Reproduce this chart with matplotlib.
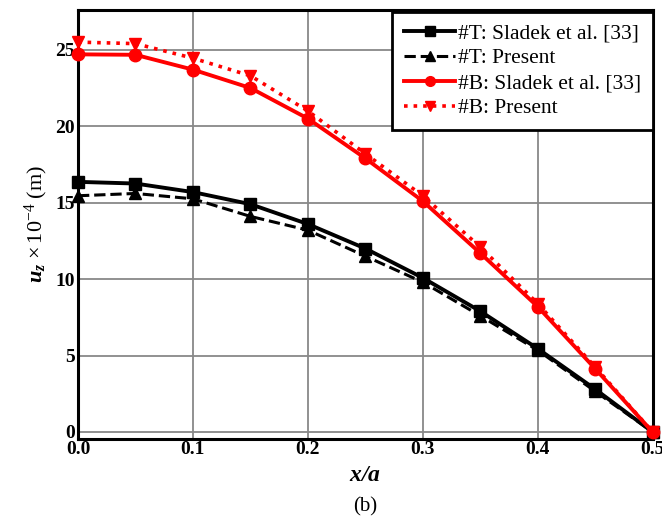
import matplotlib
matplotlib.use("Agg")
import matplotlib.pyplot as plt

plt.rcParams['font.family'] = ['Liberation Serif', 'DejaVu Serif']
plt.rcParams['mathtext.fontset'] = 'custom'
plt.rcParams['mathtext.rm'] = 'Liberation Serif'
plt.rcParams['mathtext.it'] = 'Liberation Serif:italic'
plt.rcParams['mathtext.bf'] = 'Liberation Serif:bold'
plt.rcParams['mathtext.bfit'] = 'Liberation Serif:bold:italic'

# x/a positions along the plate
x_a = [0.0, 0.05, 0.1, 0.15, 0.2, 0.25, 0.3, 0.35, 0.4, 0.45, 0.5]

# u_z x 1e-4 (m)
t_sladek = [16.36, 16.25, 15.69, 14.9, 13.6, 12.0, 10.08, 7.9, 5.45, 2.8, 0.0]
t_present = [15.45, 15.6, 15.25, 14.1, 13.2, 11.5, 9.8, 7.6, 5.35, 2.66, 0.0]
b_sladek = [24.7, 24.67, 23.7, 22.5, 20.5, 17.9, 15.1, 11.7, 8.2, 4.14, 0.0]
b_present = [25.5, 25.4, 24.45, 23.3, 21.0, 18.2, 15.45, 12.1, 8.4, 4.25, 0.0]

x_ticks = [0.0, 0.1, 0.2, 0.3, 0.4, 0.5]
y_ticks = [0, 5, 10, 15, 20, 25]

fig = plt.figure(figsize=(6.62, 5.24), dpi=100)
ax = fig.add_axes([78 / 662, 1 - 438.7 / 524, (652.6 - 78) / 662, (438.7 - 10) / 524])

ax.plot(x_a, t_sladek, '-', color='black', lw=2.8, marker='s', ms=8,
        label='#T: Sladek et al. [33]', clip_on=False, zorder=3)
ax.plot(x_a, t_present, '--', color='black', lw=2.2, marker='^', ms=8,
        label='#T: Present', clip_on=False, zorder=3)
ax.plot(x_a, b_sladek, '-', color='red', lw=2.8, marker='o', ms=9,
        label='#B: Sladek et al. [33]', clip_on=False, zorder=3)
ax.plot(x_a, b_present, ':', color='red', lw=2.6, marker='v', ms=9,
        label='#B: Present', clip_on=False, zorder=3)

ax.set_xlim(0, 0.5)
ax.set_ylim(-0.44, 27.6)
ax.set_xticks(x_ticks)
ax.set_xticklabels([f'{v:.1f}' for v in x_ticks])
ax.set_yticks(y_ticks)
ax.tick_params(length=0, pad=2, labelsize=14)
for lab in ax.get_xticklabels() + ax.get_yticklabels():
    lab.set_fontweight('bold')

ax.grid(True, color='#888888', lw=1.3)
ax.set_axisbelow(True)
for s in ax.spines.values():
    s.set_linewidth(2.2)
    s.set_color('black')

ax.set_xlabel(r'$\mathbfit{x/a}$', fontsize=17, labelpad=5)
ax.set_ylabel(r'$\mathbfit{u}_{\mathbfit{z}}$ $\times\,10^{-4}$ (m)', fontsize=16, labelpad=4)

leg = ax.legend(loc='upper right', bbox_to_anchor=(1.0, 0.996), fontsize=15.5,
                frameon=True, fancybox=False,
                handlelength=2.4, handletextpad=0.1, borderaxespad=0.0,
                labelspacing=0.22, borderpad=0.55)
leg.get_frame().set_edgecolor('black')
leg.get_frame().set_linewidth(2.0)
leg.get_frame().set_alpha(1)
for h in leg.legend_handles:
    h.set_markersize(7)

fig.text(365 / 662, 1 - 507 / 524, '(b)', ha='center', va='center', fontsize=15)

fig.savefig('out.png', dpi=100)
